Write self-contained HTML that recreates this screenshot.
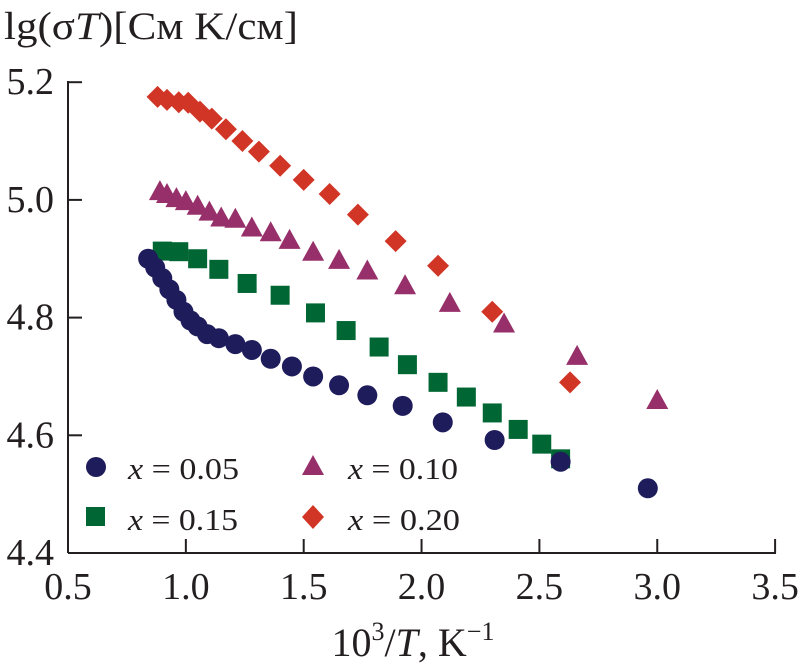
<!DOCTYPE html>
<html><head><meta charset="utf-8"><style>
body{margin:0;background:#fff;}
svg{display:block;font-family:"Liberation Serif",serif;}
</style></head><body>
<svg id="chart" width="799" height="670" viewBox="0 0 799 670">
<text x="4" y="39" font-size="39" fill="#231f20" textLength="294" lengthAdjust="spacingAndGlyphs">lg(σ<tspan font-style="italic">T</tspan>)[См K/см]</text>
<g id="axes"></g>
<g id="marks"></g>
<text x="413" y="656" font-size="40" text-anchor="middle" fill="#231f20">10<tspan dy="-16" font-size="26">3</tspan><tspan dy="16">/</tspan><tspan font-style="italic">T</tspan>, K<tspan dy="-16" font-size="26">−1</tspan></text>
<g font-size="31" fill="#231f20">
<circle cx="96" cy="467" r="10" fill="#1f1c5c"/>
<text x="128" y="479" textLength="111" lengthAdjust="spacingAndGlyphs"><tspan font-style="italic">x</tspan> = 0.05</text>
<polygon points="313,455 324,475 302,475" fill="#97306a"/>
<text x="348" y="479" textLength="110" lengthAdjust="spacingAndGlyphs"><tspan font-style="italic">x</tspan> = 0.10</text>
<rect x="86" y="507" width="19" height="19" fill="#006633"/>
<text x="128" y="530" textLength="110" lengthAdjust="spacingAndGlyphs"><tspan font-style="italic">x</tspan> = 0.15</text>
<polygon points="313,505 324,517 313,529 302,517" fill="#d13526"/>
<text x="348" y="530" textLength="112" lengthAdjust="spacingAndGlyphs"><tspan font-style="italic">x</tspan> = 0.20</text>
</g>
</svg>
<script>
const xTicks=[0.5,1.0,1.5,2.0,2.5,3.0,3.5];
const yTicks=[4.4,4.6,4.8,5.0,5.2];
const x005=[0.84,0.87,0.90,0.93,0.96,0.99,1.02,1.05,1.09,1.14,1.21,1.28,1.36,1.45,1.54,1.65,1.77,1.92,2.09,2.31,2.59,2.96];
const y005=[4.90,4.885,4.867,4.848,4.83,4.81,4.795,4.785,4.772,4.765,4.755,4.745,4.73,4.717,4.70,4.685,4.668,4.65,4.622,4.592,4.555,4.51];
const x010=[0.89,0.92,0.96,1.00,1.05,1.10,1.15,1.21,1.28,1.36,1.44,1.54,1.65,1.77,1.93,2.12,2.35,2.66,3.00];
const y010=[5.015,5.01,5.003,4.998,4.99,4.98,4.97,4.968,4.953,4.945,4.932,4.912,4.898,4.88,4.855,4.825,4.79,4.735,4.66];
const x015=[0.90,0.97,1.05,1.14,1.26,1.40,1.55,1.68,1.82,1.94,2.07,2.19,2.30,2.41,2.51,2.59];
const y015=[4.913,4.912,4.90,4.882,4.858,4.838,4.808,4.778,4.75,4.72,4.69,4.665,4.638,4.61,4.585,4.56];
const x020=[0.88,0.92,0.97,1.01,1.06,1.11,1.17,1.24,1.31,1.40,1.50,1.61,1.73,1.89,2.07,2.30,2.63];
const y020=[5.175,5.17,5.166,5.165,5.15,5.138,5.12,5.10,5.082,5.058,5.034,5.01,4.975,4.93,4.888,4.81,4.69];
const NS="http://www.w3.org/2000/svg";
const X=v=>68+(v-0.5)*235.7;
const Y=v=>553-(v-4.4)*588.5;
function mk(tag,at,parent){const e=document.createElementNS(NS,tag);for(const k in at)e.setAttribute(k,at[k]);parent.appendChild(e);return e;}
const axes=document.getElementById('axes');
let l=mk('line',{x1:68,y1:553,x2:776,y2:553,stroke:'#231f20','stroke-width':2},axes);


l=mk('line',{x1:68,y1:81,x2:68,y2:553,stroke:'#231f20','stroke-width':2},axes);


xTicks.forEach(t=>{
 const tk=mk('line',{x1:X(t),y1:553,x2:X(t),y2:539,stroke:'#231f20','stroke-width':2},axes);
 
 
 const tx=mk('text',{x:X(t),y:599,'font-size':38,'text-anchor':'middle',fill:'#231f20'},axes);
 tx.textContent=t.toFixed(1);
 
 
});
yTicks.forEach(t=>{
 const tk=mk('line',{x1:68,y1:Y(t),x2:82,y2:Y(t),stroke:'#231f20','stroke-width':2},axes);
 
 
 const tx=mk('text',{x:54,y:Y(t)+12,'font-size':38,'text-anchor':'end',fill:'#231f20'},axes);
 tx.textContent=t.toFixed(1);
 
 
});
const marks=document.getElementById('marks');
x020.forEach((v,i)=>{const cx=X(v),cy=Y(y020[i]);
 const p=mk('polygon',{points:`${cx},${cy-11} ${cx+11},${cy} ${cx},${cy+11} ${cx-11},${cy}`,fill:'#d13526'},marks);
 
 });
x010.forEach((v,i)=>{const cx=X(v),cy=Y(y010[i]);
 const p=mk('polygon',{points:`${cx},${cy-11} ${cx+11},${cy+9} ${cx-11},${cy+9}`,fill:'#97306a'},marks);
 
 });
x015.forEach((v,i)=>{const cx=X(v),cy=Y(y015[i]);
 const p=mk('rect',{x:cx-9.5,y:cy-9.5,width:19,height:19,fill:'#006633'},marks);
 
 });
x005.forEach((v,i)=>{
 const p=mk('circle',{cx:X(v),cy:Y(y005[i]),r:10,fill:'#1f1c5c'},marks);
 
 });
</script>
</body></html>
